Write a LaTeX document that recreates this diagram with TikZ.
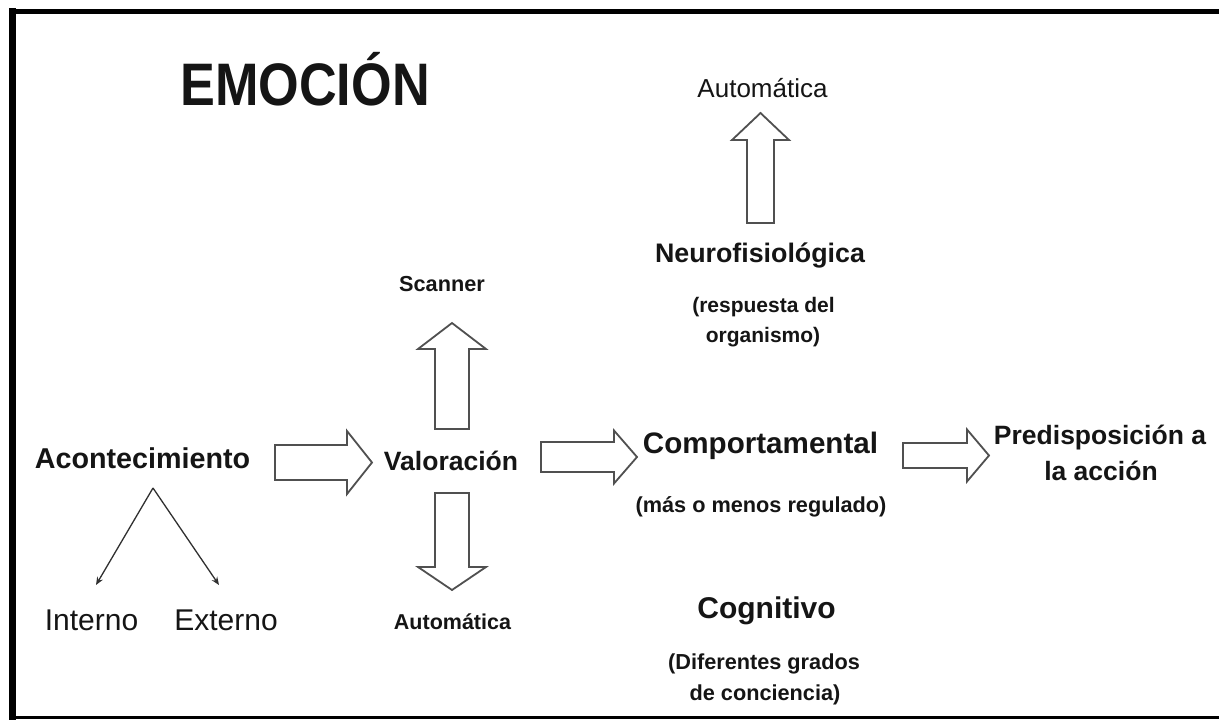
\documentclass[tikz,border=0pt]{standalone}
\usepackage{fontspec}
\usepackage{graphicx}
\setmainfont{Liberation Sans}
\usetikzlibrary{calc,arrows.meta}
\definecolor{ink}{HTML}{151515}
\definecolor{arrowgray}{HTML}{505050}
\definecolor{linegray}{HTML}{303030}
\tikzset{
  txt/.style={inner sep=0pt, anchor=base, text=ink},
  fr/.style={txt, font=\fontsize{#1}{#1}\selectfont},
  fb/.style={txt, font=\fontsize{#1}{#1}\selectfont\bfseries},
  blk/.style={draw=arrowgray, fill=white, line width=1.8pt, line join=miter},
  thinarrow/.style={draw=linegray, line width=1.3pt, -{Stealth[length=8pt,width=6.5pt]}},
  barrow/.style n args={3}{to path={
    let \p1=($(\tikztotarget)!#3!(\tikztostart)$) in
    ($(\tikztostart)!#1!90:(\tikztotarget)$) --
    ($(\p1)!#1!-90:(\tikztostart)$) --
    ($(\p1)!#2!-90:(\tikztostart)$) --
    (\tikztotarget) --
    ($(\p1)!#2!90:(\tikztostart)$) --
    ($(\p1)!#1!90:(\tikztostart)$) --
    ($(\tikztostart)!#1!-90:(\tikztotarget)$) -- cycle}},
}
\begin{document}
\begin{tikzpicture}[x=1pt, y=-1pt]
\useasboundingbox (0,0) rectangle (1219,721);
\fill[white] (0,0) rectangle (1219,721);
% frame
\draw[line width=7pt, black] (12,8) -- (12,720);
\draw[line width=5pt, black] (9,11) -- (1219,11);
\draw[line width=3pt, black] (9,717.5) -- (1219,717.5);

% title
\node[fb=60] (emo) at (305,105) {\scalebox{0.87}[1]{EMOCIÓN}};

% texts
\node[fr=26] (autotop) at (762.5,97) {Automática};
\node[fb=26.8] (neuro) at (760,262) {Neurofisiológica};
\node[fb=21] (resp1) at (763.5,312) {(respuesta del};
\node[fb=21] (resp2) at (763,342) {organismo)};
\node[fb=21.7] (scanner) at (442,291) {Scanner};
\node[fb=28.7] (acont) at (142.5,468) {Acontecimiento};
\node[fb=26.5] (valor) at (451,470) {Valoración};
\node[fb=29.6] (comp) at (760.5,453) {Comportamental};
\node[fb=21.7] (mas) at (761,512) {(más o menos regulado)};
\node[fb=26.5] (pred1) at (1100,444) {Predisposición a};
\node[fb=26.5] (pred2) at (1101,480) {la acción};
\node[fr=30] (interno) at (91.5,630) {Interno};
\node[fr=30] (externo) at (226,630) {Externo};
\node[fb=21.5] (autobot) at (452.5,629) {Automática};
\node[fb=30] (cogn) at (766.5,618) {Cognitivo};
\node[fb=21.7] (dif1) at (764,669) {(Diferentes grados};
\node[fb=21.7] (dif2) at (765,700) {de conciencia)};

% block arrow end points
\coordinate (a1s) at (275,462.5);  \coordinate (a1e) at (372,462.5);
\coordinate (a2s) at (541,457);    \coordinate (a2e) at (637,457);
\coordinate (a3s) at (903,455.5);  \coordinate (a3e) at (989,455.5);
\coordinate (aus) at (452,429);    \coordinate (aue) at (452,323);
\coordinate (ads) at (452,493);    \coordinate (ade) at (452,590);
\coordinate (ats) at (760.5,223);  \coordinate (ate) at (760.5,113);

\draw[blk] (a1s) to[barrow={17.5pt}{31.5pt}{25pt}] (a1e);
\draw[blk] (a2s) to[barrow={15pt}{26.5pt}{23pt}] (a2e);
\draw[blk] (a3s) to[barrow={12.5pt}{26pt}{22pt}] (a3e);
\draw[blk] (aus) to[barrow={17pt}{34pt}{26pt}] (aue);
\draw[blk] (ads) to[barrow={17pt}{34pt}{23pt}] (ade);
\draw[blk] (ats) to[barrow={13.5pt}{28.5pt}{27pt}] (ate);

% thin arrows
\coordinate (apex) at (153,488);
\coordinate (inend) at (96,585);
\coordinate (exend) at (219,585);
\draw[thinarrow] (apex) -- (inend);
\draw[thinarrow] (apex) -- (exend);
\end{tikzpicture}
\end{document}
